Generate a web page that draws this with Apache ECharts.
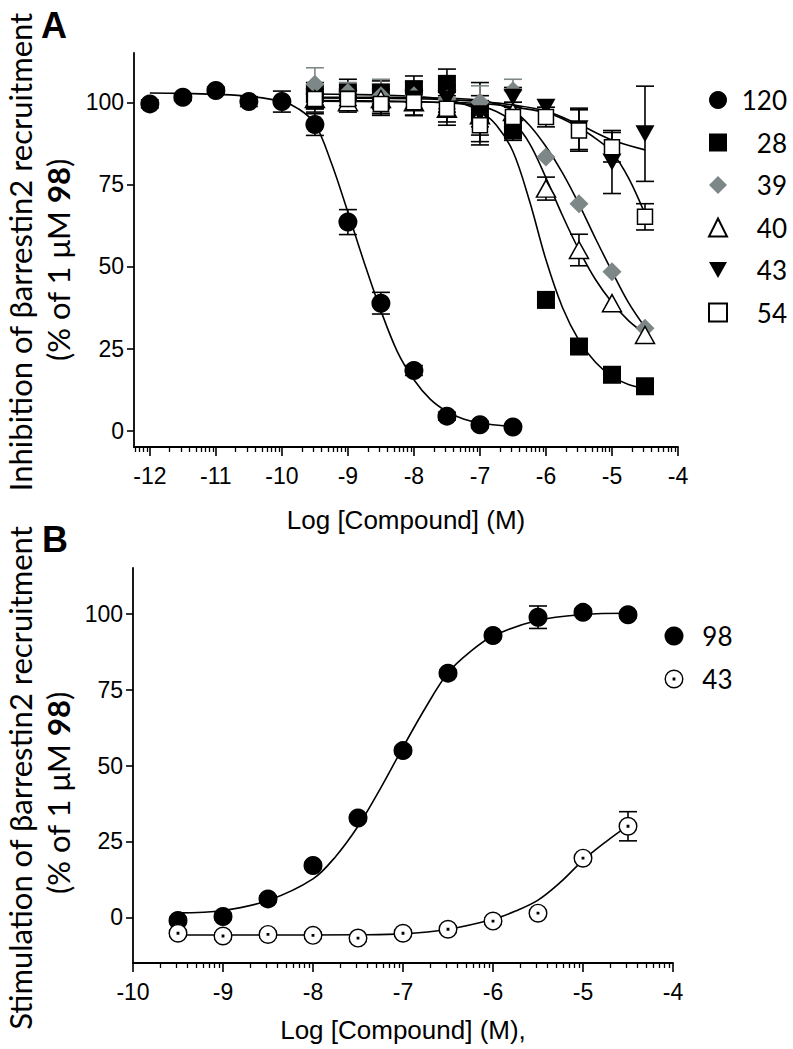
<!DOCTYPE html>
<html><head><meta charset="utf-8">
<script src="https://cdn.jsdelivr.net/npm/echarts@6/dist/echarts.min.js"></script>
<style>html,body{margin:0;padding:0;background:#fff}#c{width:793px;height:1049px}</style>
</head><body><div id="c"></div>
<script>
// ---------- Panel A data ----------
const xA120 = [-12, -11.5, -11, -10.5, -10, -9.5, -9, -8.5, -8, -7.5, -7, -6.5];
const y120 = [99.5, 101.5, 103.6, 100.2, 100.2, 93.2, 63.5, 38.8, 18.3, 4.4, 1.8, 1.1];
const err120 = [1.2, 1, 1, 1.5, 3.2, 3.3, 3.8, 3.3, 1.5, 1.2, 1, 0.8];

const xA = [-9.5, -9, -8.5, -8, -7.5, -7, -6.5, -6, -5.5, -5, -4.5];
const y28 = [102.5, 103, 103, 104, 105.6, 97, 91.4, 39.8, 25.6, 17, 13.5];
const err28 = [3.5, 4, 3.5, 4, 4.5, 9, 3, 1.5, 1.5, 1.5, 1];
const y39 = [105.5, 103, 102, 102, 101, 100, 103.5, 83.3, 69.1, 48.4, 31.2];
const err39 = [5, 3, 5, 4, 3, 5, 3.5, 0, 0, 0, 0];
const y40 = [101, 100, 101, 100, 98, 96, 97, 73.7, 55, 38.8, 29.1];
const err40 = [3, 3, 3, 4, 5, 6, 3, 3.5, 4.8, 0, 0];
const y43 = [100, 101, 99, 101, 101, 96.5, 101.5, 98.5, 91.9, 81.8, 90.4];
const err43 = [3, 3, 3, 5, 4, 4, 3, 0, 6.3, 9.6, 14.5];
const y54 = [101, 101, 99.5, 100, 98, 93, 95.5, 95.5, 91.4, 86.3, 65.1];
const err54 = [3, 3, 3, 4, 4, 6, 3, 3, 6.3, 4.5, 4];

// fitted curves
const fitX120 = [-12, -11.5, -11, -10.5, -10, -9.75, -9.5, -9.25, -9, -8.75, -8.5, -8.25, -8, -7.75, -7.5, -7.25, -7, -6.5];
const fitY120 = [102.8, 102.7, 102.4, 101.8, 100.2, 98.0, 93.5, 81.5, 66.5, 51.0, 36.5, 24.0, 15.5, 9.5, 5.8, 3.5, 2.3, 1.2];
const fitX28 = [-9.5, -9, -8.5, -8, -7.5, -7.25, -7, -6.75, -6.5, -6.25, -6, -5.75, -5.5, -5.25, -5, -4.75, -4.5];
const fitY28 = [102.5, 102.4, 102.2, 101.8, 100.8, 99.5, 97.3, 93, 85, 70, 52, 37.5, 27.5, 20.8, 16.5, 14, 12.8];
const fitX39 = [-9.5, -8.5, -7.5, -7, -6.75, -6.5, -6.25, -6, -5.75, -5.5, -5.25, -5, -4.75, -4.5];
const fitY39 = [101.5, 101.5, 101.2, 100.6, 99.5, 97.5, 93, 86.5, 78.5, 69, 58.5, 48.5, 39, 31.5];
const fitX40 = [-9.5, -8.5, -7.5, -7, -6.75, -6.5, -6.25, -6, -5.75, -5.5, -5.25, -5, -4.75, -4.5];
const fitY40 = [100.5, 100.4, 99.8, 98.8, 97.2, 94, 87.5, 77, 65.5, 55, 46, 39, 33.5, 29.5];
const fitX43 = [-9.5, -8.5, -7.5, -7, -6.5, -6, -5.5, -5, -4.5];
const fitY43 = [101.3, 101.2, 100.8, 100.2, 99.2, 97.3, 93.2, 88.5, 85.5];
const fitX54 = [-9.5, -8.5, -7.5, -7, -6.5, -6, -5.75, -5.5, -5.25, -5, -4.75, -4.5];
const fitY54 = [100.3, 100.2, 100, 99.6, 98.6, 96.8, 95, 92.3, 89, 84.8, 77, 66];

// ---------- Panel B data ----------
const xB = [-9.5, -9, -8.5, -8, -7.5, -7, -6.5, -6, -5.5, -5, -4.5];
const y98 = [-1.0, 0.3, 6.1, 17.1, 32.7, 54.9, 80.4, 92.8, 98.8, 100.4, 99.6];
const err98 = [1, 1, 1, 1, 1, 1, 1, 1, 3.7, 1, 1];
const y43b = [-5.2, -6.1, -5.6, -5.9, -6.8, -5.2, -3.9, -1.2, 1.4, 19.5, 30.0];
const err43b = [1, 1, 1, 1, 1, 1, 1, 1, 1, 1, 4.8];
const fitX98 = [-9.5, -9, -8.5, -8, -7.75, -7.5, -7.25, -7, -6.75, -6.5, -6.25, -6, -5.5, -5, -4.5];
const fitY98 = [1.5, 2.3, 5.6, 12.7, 20, 30, 42.5, 56, 69, 80.5, 87.5, 92.6, 97.8, 99.7, 100.1];
const fitX43b = [-9.5, -8.5, -7.5, -7, -6.5, -6, -5.75, -5.5, -5.25, -5, -4.75, -4.5];
const fitY43b = [-5.8, -5.8, -5.7, -5.4, -3.9, -0.6, 2.1, 5.7, 11.6, 18.8, 24.8, 30.2];

// ---------- tick labels ----------
const xTicksA = [-12, -11, -10, -9, -8, -7, -6, -5, -4];
const xTicksB = [-10, -9, -8, -7, -6, -5, -4];
const yTicks = [0, 25, 50, 75, 100];

// ---------- helpers ----------
const zip = (xs, ys) => xs.map((x, i) => [x, ys[i]]);
const zip3 = (xs, ys, es) => xs.map((x, i) => [x, ys[i], es[i]]);
function minorTicks(min, max) {
  const out = [];
  for (let d = Math.floor(min) - 1; d < Math.ceil(max); d++) {
    for (let k = 2; k <= 9; k++) {
      const v = d + Math.log10(k);
      if (v > min + 1e-6 && v < max - 1e-6) out.push(v);
    }
  }
  return out;
}
const TICKFONT = 'Liberation Sans';
const TITLEFONT = 'Lato';
const GREY = '#7e8787';

function xMajor(grid, min, max, ticks, name, gap) {
  return {
    type: 'value', gridIndex: grid, min: min, max: max, position: 'bottom',
    axisLine: { show: true, onZero: false, lineStyle: { color: '#000', width: 1.8 } },
    axisTick: { show: true, customValues: ticks, length: 9, lineStyle: { color: '#000', width: 1.6 } },
    axisLabel: { customValues: ticks, color: '#000', fontFamily: TICKFONT, fontSize: 23, margin: 17,
      formatter: v => String(v) },
    splitLine: { show: false },
    name: name, nameLocation: 'middle', nameGap: gap,
    nameTextStyle: { color: '#000', fontFamily: TICKFONT, fontSize: 26 }
  };
}
function xMinor(grid, min, max) {
  return {
    type: 'value', gridIndex: grid, min: min, max: max, position: 'bottom',
    axisLine: { show: false, onZero: false },
    axisTick: { show: true, customValues: minorTicks(min, max), length: 5, lineStyle: { color: '#000', width: 1.3 } },
    axisLabel: { show: false }, splitLine: { show: false }
  };
}
function yAx(grid, min, max) {
  return {
    type: 'value', gridIndex: grid, min: min, max: max, position: 'left',
    axisLine: { show: true, onZero: false, lineStyle: { color: '#000', width: 1.8 } },
    axisTick: { show: true, customValues: yTicks, length: 7, lineStyle: { color: '#000', width: 1.6 } },
    axisLabel: { customValues: yTicks, color: '#000', fontFamily: TICKFONT, fontSize: 23, margin: 10 },
    splitLine: { show: false }
  };
}
function curve(grid, xs, ys) {
  return { type: 'line', xAxisIndex: grid * 2, yAxisIndex: grid, data: zip(xs, ys), smooth: 0.35,
    showSymbol: false, silent: true, z: 2, lineStyle: { color: '#000', width: 1.6 } };
}
function errBars(grid, xs, ys, es, color) {
  return {
    type: 'custom', xAxisIndex: grid * 2, yAxisIndex: grid, data: zip3(xs, ys, es), z: 3, silent: true,
    renderItem: function (params, api) {
      const x = api.value(0), y = api.value(1), e = api.value(2);
      if (!(e > 0)) return null;
      const top = api.coord([x, y + e]);
      const bot = api.coord([x, y - e]);
      const hw = 9;
      const st = { stroke: color, lineWidth: 1.6 };
      return { type: 'group', children: [
        { type: 'line', shape: { x1: top[0], y1: top[1], x2: bot[0], y2: bot[1] }, style: st },
        { type: 'line', shape: { x1: top[0] - hw, y1: top[1], x2: top[0] + hw, y2: top[1] }, style: st },
        { type: 'line', shape: { x1: bot[0] - hw, y1: bot[1], x2: bot[0] + hw, y2: bot[1] }, style: st }
      ] };
    }
  };
}
function pts(grid, name, xs, ys, symbol, size, itemStyle) {
  return { type: 'scatter', name: name, xAxisIndex: grid * 2, yAxisIndex: grid, data: zip(xs, ys),
    symbol: symbol, symbolSize: size, itemStyle: Object.assign({ opacity: 1 }, itemStyle), z: 4, silent: true };
}
const DOWN_TRI = 'path://M0,0L20,0L10,18Z';
const RING_DOT = 'path://M0,10A10,10 0 1,1 20,10A10,10 0 1,1 0,10Z' +
  'M1.5,10A8.5,8.5 0 1,0 18.5,10A8.5,8.5 0 1,0 1.5,10Z' +
  'M8.5,8.5L11.5,8.5L11.5,11.5L8.5,11.5Z';

const chart = echarts.init(document.getElementById('c'), null, { renderer: 'svg', width: 793, height: 1049 });

const series = [
  curve(0, fitX120, fitY120), curve(0, fitX28, fitY28), curve(0, fitX39, fitY39),
  curve(0, fitX40, fitY40), curve(0, fitX43, fitY43), curve(0, fitX54, fitY54),
  errBars(0, xA120, y120, err120, '#000'), errBars(0, xA, y28, err28, '#000'),
  errBars(0, xA, y39, err39, GREY), errBars(0, xA, y40, err40, '#000'),
  errBars(0, xA, y43, err43, '#000'), errBars(0, xA, y54, err54, '#000'),
  pts(0, '120', xA120, y120, 'circle', 19, { color: '#000' }),
  pts(0, '28', xA, y28, 'rect', 18, { color: '#000' }),
  pts(0, '39', xA, y39, 'diamond', 19, { color: GREY }),
  pts(0, '40', xA, y40, 'triangle', [19, 17], { color: '#fff', borderColor: '#000', borderWidth: 1.5 }),
  pts(0, '43', xA, y43, DOWN_TRI, [19, 17], { color: '#000' }),
  pts(0, '54', xA, y54, 'rect', 15, { color: '#fff', borderColor: '#000', borderWidth: 1.5 }),
  // panel B
  curve(1, fitX98, fitY98), curve(1, fitX43b, fitY43b),
  errBars(1, xB, y98, err98, '#000'), errBars(1, xB, y43b, err43b, '#000'),
  pts(1, '98', xB, y98, 'circle', 19, { color: '#000' }),
  pts(1, 'bg43', xB, y43b, 'circle', 18, { color: '#fff' }),
  pts(1, '43 ', xB, y43b, RING_DOT, 19, { color: '#000' })
];

function legendFmt(w) {
  return {
    formatter: n => '{t|' + n.trim() + '}',
    textStyle: { rich: { t: { width: w, align: 'right', fontFamily: TITLEFONT, fontSize: 26, lineHeight: 26, color: '#000' } } }
  };
}

chart.setOption({
  animation: false,
  backgroundColor: '#fff',
  grid: [
    { left: 134, top: 53, width: 544, height: 394 },
    { left: 133, top: 568, width: 540, height: 395 }
  ],
  xAxis: [
    xMajor(0, -12.24, -4, xTicksA, 'Log [Compound] (M)', 60),
    xMinor(0, -12.24, -4),
    xMajor(1, -10, -4, xTicksB, 'Log [Compound] (M),', 54),
    xMinor(1, -10, -4)
  ],
  yAxis: [yAx(0, -5, 115), yAx(1, -15, 115)],
  legend: [
    Object.assign({ orient: 'vertical', left: 708, top: 87, padding: 0, itemWidth: 18, itemHeight: 18,
      itemGap: 16.5, selectedMode: false, data: ['120', '28', '39', '40', '43', '54'] }, legendFmt(55)),
    Object.assign({ orient: 'vertical', left: 664.5, top: 623, padding: 0, itemWidth: 19, itemHeight: 19,
      itemGap: 17, selectedMode: false, data: ['98', '43 '] }, legendFmt(44))
  ],
  graphic: [
    { type: 'text', x: 54, y: 25, style: { text: 'A', font: 'bold 36px "Liberation Sans"', fill: '#000', align: 'center', verticalAlign: 'middle' } },
    { type: 'text', x: 55, y: 539, style: { text: 'B', font: 'bold 36px "Liberation Sans"', fill: '#000', align: 'center', verticalAlign: 'middle' } },
    { type: 'text', x: 20, y: 252, rotation: Math.PI / 2,
      style: { text: 'Inhibition of βarrestin2 recruitment', font: '31px Lato', fill: '#000', align: 'center', verticalAlign: 'middle' } },
    { type: 'text', x: 58, y: 260, rotation: Math.PI / 2,
      style: { text: '{n|(% of 1 μM }{b|98}{n|)}', align: 'center', verticalAlign: 'middle',
        rich: { n: { fontFamily: 'Lato', fontSize: 31, fill: '#000' }, b: { fontFamily: 'Lato', fontSize: 31, fontWeight: 'bold', fill: '#000' } } } },
    { type: 'text', x: 20, y: 778, rotation: Math.PI / 2,
      style: { text: 'Stimulation of βarrestin2 recruitment', font: '31px Lato', fill: '#000', align: 'center', verticalAlign: 'middle' } },
    { type: 'text', x: 58, y: 793, rotation: Math.PI / 2,
      style: { text: '{n|(% of 1 μM }{b|98}{n|)}', align: 'center', verticalAlign: 'middle',
        rich: { n: { fontFamily: 'Lato', fontSize: 31, fill: '#000' }, b: { fontFamily: 'Lato', fontSize: 31, fontWeight: 'bold', fill: '#000' } } } }
  ],
  series: series
});
</script></body></html>
